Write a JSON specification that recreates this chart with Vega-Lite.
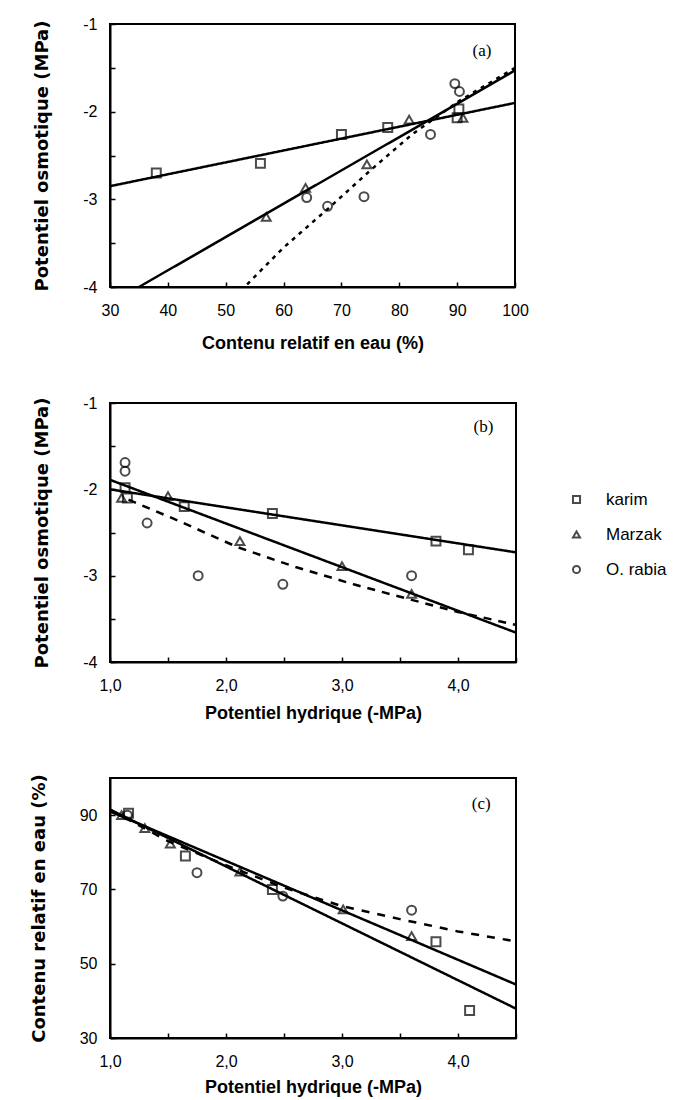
{
  "$schema": "https://vega.github.io/schema/vega-lite/v6.json",
  "background": "white",
  "padding": {"left": 29, "top": 15, "right": 5, "bottom": 5},
  "spacing": 116,
  "bounds": "flush",
  "config": {
    "view": {"stroke": "black", "strokeWidth": 2},
    "axis": {
      "grid": false,
      "domainColor": "black",
      "domainWidth": 2,
      "tickColor": "black",
      "tickWidth": 1.5,
      "tickSize": -5,
      "labelFont": "Liberation Sans",
      "labelFontSize": 16,
      "labelColor": "black",
      "titleColor": "black",
      "labelFlush": false,
      "labelOverlap": false
    },
    "axisX": {"titleFont": "Liberation Sans", "titleFontSize": 18, "titleFontWeight": "bold", "labelPadding": 20},
    "axisY": {"titleFont": "DejaVu Sans", "titleFontSize": 18, "titleFontWeight": "bold", "titlePadding": 31, "labelPadding": 18}
  },
  "datasets": {
    "a_pts": [
      {"variete": "karim", "x": 38, "y": -2.70},
      {"variete": "karim", "x": 56, "y": -2.59},
      {"variete": "karim", "x": 70, "y": -2.26},
      {"variete": "karim", "x": 78, "y": -2.18},
      {"variete": "karim", "x": 90, "y": -2.07},
      {"variete": "karim", "x": 90.3, "y": -1.97},
      {"variete": "Marzak", "x": 57, "y": -3.20},
      {"variete": "Marzak", "x": 63.8, "y": -2.87},
      {"variete": "Marzak", "x": 74.4, "y": -2.60},
      {"variete": "Marzak", "x": 81.7, "y": -2.09},
      {"variete": "Marzak", "x": 91, "y": -2.07},
      {"variete": "O. rabia", "x": 64, "y": -2.98},
      {"variete": "O. rabia", "x": 67.6, "y": -3.08},
      {"variete": "O. rabia", "x": 73.9, "y": -2.97},
      {"variete": "O. rabia", "x": 85.4, "y": -2.26},
      {"variete": "O. rabia", "x": 89.6, "y": -1.68},
      {"variete": "O. rabia", "x": 90.4, "y": -1.77}
    ],
    "a_fit": [
      {"variete": "karim", "x": 30, "y": -2.85},
      {"variete": "karim", "x": 100, "y": -1.9},
      {"variete": "Marzak", "x": 35, "y": -4},
      {"variete": "Marzak", "x": 100, "y": -1.53},
      {"variete": "O. rabia", "x": 53.7, "y": -3.97},
      {"variete": "O. rabia", "x": 60, "y": -3.55},
      {"variete": "O. rabia", "x": 67.8, "y": -3.1},
      {"variete": "O. rabia", "x": 75, "y": -2.67},
      {"variete": "O. rabia", "x": 82.2, "y": -2.26},
      {"variete": "O. rabia", "x": 90.3, "y": -1.88},
      {"variete": "O. rabia", "x": 100, "y": -1.5}
    ],
    "b_pts": [
      {"variete": "karim", "x": 1.13, "y": -1.98},
      {"variete": "karim", "x": 1.15, "y": -2.10},
      {"variete": "karim", "x": 1.64, "y": -2.20},
      {"variete": "karim", "x": 2.40, "y": -2.28},
      {"variete": "karim", "x": 3.81, "y": -2.60},
      {"variete": "karim", "x": 4.09, "y": -2.70},
      {"variete": "Marzak", "x": 1.10, "y": -2.10},
      {"variete": "Marzak", "x": 1.50, "y": -2.08},
      {"variete": "Marzak", "x": 2.12, "y": -2.60},
      {"variete": "Marzak", "x": 3.00, "y": -2.89},
      {"variete": "Marzak", "x": 3.60, "y": -3.21},
      {"variete": "O. rabia", "x": 1.13, "y": -1.69},
      {"variete": "O. rabia", "x": 1.13, "y": -1.79},
      {"variete": "O. rabia", "x": 1.32, "y": -2.39},
      {"variete": "O. rabia", "x": 1.76, "y": -3.00},
      {"variete": "O. rabia", "x": 2.49, "y": -3.10},
      {"variete": "O. rabia", "x": 3.60, "y": -3.00}
    ],
    "b_fit": [
      {"variete": "karim", "x": 1.0, "y": -2.0},
      {"variete": "karim", "x": 4.5, "y": -2.73},
      {"variete": "Marzak", "x": 1.0, "y": -1.89},
      {"variete": "Marzak", "x": 4.5, "y": -3.66},
      {"variete": "O. rabia", "x": 1.16, "y": -2.12},
      {"variete": "O. rabia", "x": 1.6, "y": -2.37},
      {"variete": "O. rabia", "x": 2.1, "y": -2.67},
      {"variete": "O. rabia", "x": 2.6, "y": -2.9},
      {"variete": "O. rabia", "x": 3.1, "y": -3.1},
      {"variete": "O. rabia", "x": 3.6, "y": -3.28},
      {"variete": "O. rabia", "x": 4.0, "y": -3.42},
      {"variete": "O. rabia", "x": 4.5, "y": -3.57}
    ],
    "c_pts": [
      {"variete": "karim", "x": 1.16, "y": 90.5},
      {"variete": "karim", "x": 1.65, "y": 79.0},
      {"variete": "karim", "x": 2.40, "y": 70.0},
      {"variete": "karim", "x": 3.81, "y": 55.9},
      {"variete": "karim", "x": 4.10, "y": 37.4},
      {"variete": "Marzak", "x": 1.10, "y": 90.0},
      {"variete": "Marzak", "x": 1.30, "y": 86.5},
      {"variete": "Marzak", "x": 1.52, "y": 82.3},
      {"variete": "Marzak", "x": 2.12, "y": 74.8},
      {"variete": "Marzak", "x": 3.01, "y": 64.6},
      {"variete": "Marzak", "x": 3.60, "y": 57.4},
      {"variete": "O. rabia", "x": 1.15, "y": 90.0},
      {"variete": "O. rabia", "x": 1.75, "y": 74.5},
      {"variete": "O. rabia", "x": 2.49, "y": 68.2},
      {"variete": "O. rabia", "x": 3.60, "y": 64.4}
    ],
    "c_fit": [
      {"variete": "karim", "x": 1.0, "y": 91.5},
      {"variete": "karim", "x": 4.5, "y": 37.9},
      {"variete": "Marzak", "x": 1.0, "y": 91.0},
      {"variete": "Marzak", "x": 4.5, "y": 44.4},
      {"variete": "O. rabia", "x": 1.0, "y": 91.5},
      {"variete": "O. rabia", "x": 1.5, "y": 83.0},
      {"variete": "O. rabia", "x": 2.0, "y": 76.5},
      {"variete": "O. rabia", "x": 2.5, "y": 70.5},
      {"variete": "O. rabia", "x": 3.0, "y": 65.5},
      {"variete": "O. rabia", "x": 3.5, "y": 62.0},
      {"variete": "O. rabia", "x": 4.0, "y": 58.7},
      {"variete": "O. rabia", "x": 4.5, "y": 56.0}
    ],
    "tags": [
      {"panel": "a", "label": "(a)", "x": 94.3, "y": -1.31},
      {"panel": "b", "label": "(b)", "x": 4.22, "y": -1.28},
      {"panel": "c", "label": "(c)", "x": 4.2, "y": 93}
    ]
  },
  "vconcat": [
    {
      "width": 405,
      "height": 263,
      "resolve": {"scale": {"shape": "independent", "strokeDash": "independent"}},
      "layer": [
        {
          "data": {"name": "a_fit"},
          "mark": {"type": "line", "color": "black", "strokeWidth": 2.5, "clip": true},
          "encoding": {
            "x": {"field": "x", "type": "quantitative", "scale": {"domain": [30, 100], "nice": false, "zero": false},
              "axis": {"title": "Contenu relatif en eau (%)", "titlePadding": 16, "values": [30,35,40,45,50,55,60,65,70,75,80,85,90,95,100], "labelExpr": "datum.value % 10 == 0 ? '' + datum.value : ''"}},
            "y": {"field": "y", "type": "quantitative", "scale": {"domain": [-4, -1], "nice": false, "zero": false},
              "axis": {"title": "Potentiel osmotique (MPa)", "values": [-4,-3.5,-3,-2.5,-2,-1.5,-1], "labelExpr": "datum.value % 1 == 0 ? '' + datum.value : ''"}},
            "detail": {"field": "variete"},
            "strokeDash": {"field": "variete", "type": "nominal", "scale": {"domain": ["karim", "Marzak", "O. rabia"], "range": [[1, 0], [1, 0], [4, 5]]}, "legend": null}
          }
        },
        {
          "data": {"name": "a_pts"},
          "mark": {"type": "point", "filled": false, "color": "black", "strokeWidth": 2, "size": 80},
          "encoding": {
            "x": {"field": "x", "type": "quantitative"},
            "y": {"field": "y", "type": "quantitative"},
            "shape": {"field": "variete", "type": "nominal", "scale": {"domain": ["karim", "Marzak", "O. rabia"], "range": ["square", "triangle-up", "circle"]}, "legend": null}
          }
        },
        {
          "data": {"name": "tags"},
          "transform": [{"filter": "datum.panel == 'a'"}],
          "mark": {"type": "text", "font": "Liberation Serif", "fontSize": 17, "color": "black"},
          "encoding": {
            "x": {"field": "x", "type": "quantitative"},
            "y": {"field": "y", "type": "quantitative"},
            "text": {"field": "label"}
          }
        }
      ]
    },
    {
      "width": 406,
      "height": 259,
      "resolve": {"scale": {"shape": "independent", "strokeDash": "independent"}},
      "layer": [
        {
          "data": {"name": "b_fit"},
          "mark": {"type": "line", "color": "black", "strokeWidth": 2.5, "clip": true},
          "encoding": {
            "x": {"field": "x", "type": "quantitative", "scale": {"domain": [1, 4.5], "nice": false, "zero": false},
              "axis": {"title": "Potentiel hydrique (-MPa)", "titlePadding": 11, "values": [1,1.5,2,2.5,3,3.5,4,4.5], "labelExpr": "datum.value % 1 == 0 ? replace(format(datum.value, '.1f'), '.', ',') : ''"}},
            "y": {"field": "y", "type": "quantitative", "scale": {"domain": [-4, -1], "nice": false, "zero": false},
              "axis": {"title": "Potentiel osmotique (MPa)", "values": [-4,-3.5,-3,-2.5,-2,-1.5,-1], "labelExpr": "datum.value % 1 == 0 ? '' + datum.value : ''"}},
            "detail": {"field": "variete"},
            "strokeDash": {"field": "variete", "type": "nominal", "scale": {"domain": ["karim", "Marzak", "O. rabia"], "range": [[1, 0], [1, 0], [8, 7]]}, "legend": null}
          }
        },
        {
          "data": {"name": "b_pts"},
          "mark": {"type": "point", "filled": false, "color": "black", "strokeWidth": 2, "size": 80},
          "encoding": {
            "x": {"field": "x", "type": "quantitative"},
            "y": {"field": "y", "type": "quantitative"},
            "shape": {"field": "variete", "type": "nominal", "scale": {"domain": ["karim", "Marzak", "O. rabia"], "range": ["square", "triangle-up", "circle"]},
              "legend": {"title": null, "orient": "none", "legendX": 458, "legendY": 88, "labelFont": "Liberation Sans", "labelFontSize": 17, "labelColor": "black", "symbolStrokeColor": "black", "symbolStrokeWidth": 2, "symbolSize": 50, "symbolFillColor": "white", "rowPadding": 17, "labelOffset": 21}}
          }
        },
        {
          "data": {"name": "tags"},
          "transform": [{"filter": "datum.panel == 'b'"}],
          "mark": {"type": "text", "font": "Liberation Serif", "fontSize": 17, "color": "black"},
          "encoding": {
            "x": {"field": "x", "type": "quantitative"},
            "y": {"field": "y", "type": "quantitative"},
            "text": {"field": "label"}
          }
        }
      ]
    },
    {
      "width": 406,
      "height": 260,
      "resolve": {"scale": {"shape": "independent", "strokeDash": "independent"}},
      "layer": [
        {
          "data": {"name": "c_fit"},
          "mark": {"type": "line", "color": "black", "strokeWidth": 2.5, "clip": true},
          "encoding": {
            "x": {"field": "x", "type": "quantitative", "scale": {"domain": [1, 4.5], "nice": false, "zero": false},
              "axis": {"title": "Potentiel hydrique (-MPa)", "titlePadding": 9, "values": [1,1.5,2,2.5,3,3.5,4,4.5], "labelExpr": "datum.value % 1 == 0 ? replace(format(datum.value, '.1f'), '.', ',') : ''"}},
            "y": {"field": "y", "type": "quantitative", "scale": {"domain": [30, 100], "nice": false, "zero": false},
              "axis": {"title": "Contenu relatif en eau (%)", "values": [30,40,50,60,70,80,90,100], "labelExpr": "(datum.value - 30) % 20 == 0 && datum.value < 100 ? '' + datum.value : ''"}},
            "detail": {"field": "variete"},
            "strokeDash": {"field": "variete", "type": "nominal", "scale": {"domain": ["karim", "Marzak", "O. rabia"], "range": [[1, 0], [1, 0], [8, 8]]}, "legend": null}
          }
        },
        {
          "data": {"name": "c_pts"},
          "mark": {"type": "point", "filled": false, "color": "black", "strokeWidth": 2, "size": 80},
          "encoding": {
            "x": {"field": "x", "type": "quantitative"},
            "y": {"field": "y", "type": "quantitative"},
            "shape": {"field": "variete", "type": "nominal", "scale": {"domain": ["karim", "Marzak", "O. rabia"], "range": ["square", "triangle-up", "circle"]}, "legend": null}
          }
        },
        {
          "data": {"name": "tags"},
          "transform": [{"filter": "datum.panel == 'c'"}],
          "mark": {"type": "text", "font": "Liberation Serif", "fontSize": 17, "color": "black"},
          "encoding": {
            "x": {"field": "x", "type": "quantitative"},
            "y": {"field": "y", "type": "quantitative"},
            "text": {"field": "label"}
          }
        }
      ]
    }
  ]
}
